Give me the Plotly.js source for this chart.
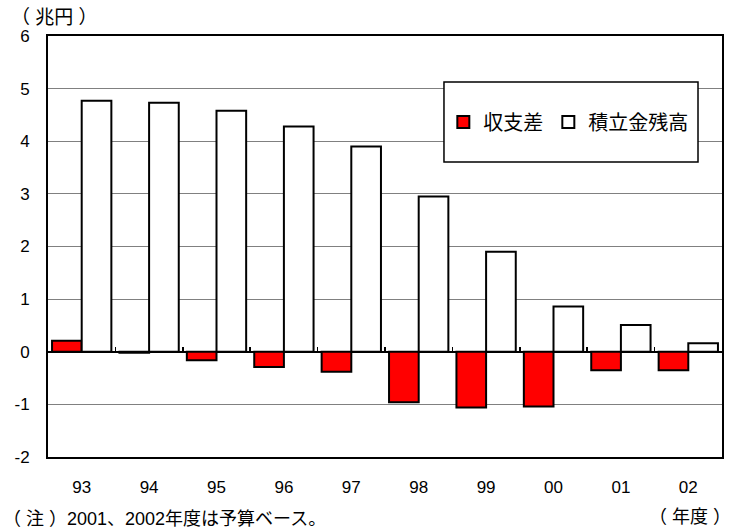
<!DOCTYPE html>
<html>
<head>
<meta charset="utf-8">
<script src="https://cdn.plot.ly/plotly-3.0.1.min.js"></script>
<style>
  html, body { margin: 0; padding: 0; background: #fff; }
  #chart { width: 736px; height: 532px; }
</style>
</head>
<body>
<div id="chart"></div>
<script>
// 年度（93〜02）
const years = ['93', '94', '95', '96', '97', '98', '99', '00', '01', '02'];
// 収支差（兆円）
const balance = [0.21, -0.02, -0.16, -0.29, -0.38, -0.96, -1.06, -1.04, -0.35, -0.35];
// 積立金残高（兆円）
const reserves = [4.77, 4.73, 4.58, 4.28, 3.90, 2.95, 1.90, 0.86, 0.51, 0.16];
const yTicks = [-2, -1, 0, 1, 2, 3, 4, 5, 6];

const jp = '"Liberation Sans", Arial, "Noto Sans CJK JP", sans-serif';

const traces = [
  {
    type: 'bar', name: '収支差', x: years, y: balance,
    marker: { color: '#ff0000', line: { color: '#000', width: 2 } },
    hoverinfo: 'x+y'
  },
  {
    type: 'bar', name: '積立金残高', x: years, y: reserves,
    marker: { color: '#ffffff', line: { color: '#000', width: 2 } },
    hoverinfo: 'x+y'
  },
  // carrier for the boundary ticks along the zero line
  {
    type: 'scatter', mode: 'none', x: years, y: years.map(() => 0),
    xaxis: 'x2', showlegend: false, hoverinfo: 'skip'
  }
];

const layout = {
  width: 736, height: 532,
  margin: { l: 48, r: 14, t: 36, b: 75 },
  paper_bgcolor: '#fff', plot_bgcolor: '#fff',
  font: { family: jp, size: 17, color: '#000' },
  barmode: 'group', bargap: 0.12, bargroupgap: 0,
  showlegend: true,
  legend: {
    orientation: 'h', x: 0.772, y: 0.7957, xanchor: 'center', yanchor: 'middle',
    bgcolor: 'rgba(0,0,0,0)', borderwidth: 0,
    font: { family: jp, size: 20, color: '#000' },
    itemwidth: 30, traceorder: 'normal'
  },
  xaxis: {
    type: 'category', categoryorder: 'array', categoryarray: years,
    showline: true, linecolor: '#000', linewidth: 2, mirror: true,
    ticks: 'outside', ticklen: 14, tickcolor: 'rgba(0,0,0,0)',
    showgrid: false, zeroline: false,
    tickfont: { family: jp, size: 17 }
  },
  xaxis2: {
    type: 'category', matches: 'x', overlaying: 'x', anchor: 'free', position: 0.25,
    showticklabels: false, ticks: 'inside', tickson: 'boundaries', ticklen: 5,
    tickwidth: 1.5, tickcolor: '#000', showline: false, showgrid: false, zeroline: false
  },
  yaxis: {
    range: [-2, 6], tickvals: yTicks, ticktext: yTicks.map(String),
    showline: true, linecolor: '#000', linewidth: 2, mirror: true,
    showgrid: true, gridcolor: '#808080', gridwidth: 1,
    zeroline: true, zerolinecolor: '#000', zerolinewidth: 1.5,
    ticks: 'outside', ticklen: 13, tickcolor: 'rgba(0,0,0,0)',
    tickfont: { family: jp, size: 17 }
  },
  shapes: [
    {
      type: 'rect', xref: 'paper', yref: 'paper',
      x0: 0.5875, x1: 0.9644, y0: 0.7007, y1: 0.8907,
      fillcolor: '#fff', line: { color: '#000', width: 1.5 }, layer: 'above'
    }
  ],
  annotations: [
    {
      text: '（ 兆円 ）', xref: 'paper', yref: 'paper', x: -0.058, y: 1.043,
      xanchor: 'left', yanchor: 'middle', showarrow: false,
      font: { family: jp, size: 19 }
    },
    {
      text: '（ 年度 ）', xref: 'paper', yref: 'paper', x: 1.016, y: -0.143,
      xanchor: 'right', yanchor: 'middle', showarrow: false,
      font: { family: jp, size: 18 }
    },
    {
      text: '（ 注 ）2001、2002年度は予算ベース。', xref: 'paper', yref: 'paper',
      x: -0.07, y: -0.176, xanchor: 'left', yanchor: 'bottom', showarrow: false,
      font: { family: jp, size: 18 }
    }
  ]
};

Plotly.newPlot('chart', traces, layout, { displayModeBar: false, staticPlot: true });
</script>
</body>
</html>
